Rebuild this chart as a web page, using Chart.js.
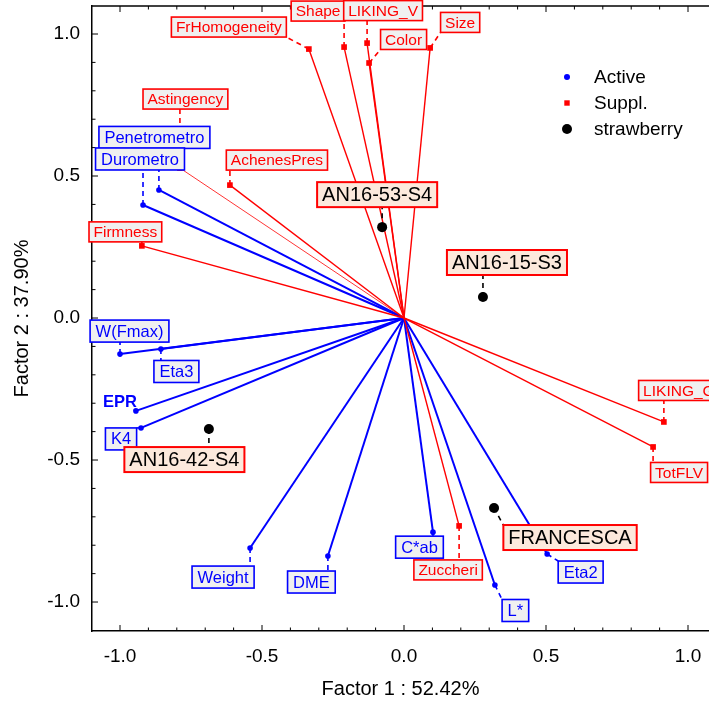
<!DOCTYPE html>
<html><head><meta charset="utf-8">
<script src="https://cdn.jsdelivr.net/npm/chart.js@4.4.1/dist/chart.umd.min.js"></script>
<style>html,body{margin:0;padding:0;background:#fff;overflow:hidden}</style>
</head><body>
<canvas id="c" width="709" height="703"></canvas>
<script>
const FONT = '"Liberation Sans", Arial, Helvetica, sans-serif';

// ---- data ----
const xTicks = [-1.0, -0.5, 0.0, 0.5, 1.0];
const yTicks = [-1.0, -0.5, 0.0, 0.5, 1.0];
const xTitle = 'Factor 1 : 52.42%';
const yTitle = 'Factor 2 : 37.90%';
const legendLabels = ['Active', 'Suppl.', 'strawberry'];

const activeNames = ['Penetrometro','Durometro','W(Fmax)','Eta3','EPR','K4','Weight','DME','C*ab','L*','Eta2'];
const activeX = [-0.863,-0.919,-1.000,-0.856,-0.944,-0.926,-0.542,-0.268,0.102,0.320,0.504];
const activeY = [0.451,0.398,-0.127,-0.109,-0.327,-0.387,-0.810,-0.838,-0.754,-0.940,-0.831];

const supplNames = ['FrHomogeneity','Shape','LIKING_V','Color','Size','Astingency','AchenesPres','Firmness','LIKING_G','TotFLV','Zuccheri'];
const supplX = [-0.335,-0.211,-0.130,-0.123,0.092,-0.789,-0.613,-0.923,0.915,0.877,0.194];
const supplY = [0.947,0.954,0.968,0.898,0.951,0.528,0.468,0.254,-0.366,-0.454,-0.732];

const strawNames = ['AN16-53-S4','AN16-15-S3','AN16-42-S4','FRANCESCA'];
const strawX = [-0.077,0.278,-0.687,0.317];
const strawY = [0.320,0.074,-0.391,-0.669];

// ---- layout / style (label offsets in px from the point) ----
const activeLabelOffset = [[-4.5,-52.5],[-3,-46],[9.5,-23],[15.5,22.5],[-16,-9],[-20,11],[-27,29],[-16.5,26],[-13.5,15],[20.5,25.5],[33.5,18]];
const activeNoBox = ['EPR'];
const supplLabelOffset = [[-80,-22],[-26,-36],[16,-32.5],[34.5,-23.5],[30,-25.5],[5.5,-69],[47,-25],[-16.5,-14],[15,-31.5],[26,25.5],[-11,44]];
const supplThin = ['Astingency'];
const strawLabelOffset = [[-5,-32.5],[24,-34.5],[-24.5,30.5],[76,29.5]];

const BLUE = '#0000ff', RED = '#ff0000';

const datasets = [];
datasets.push({
  label:'strawberry', order:1,
  data: strawX.map((x,i)=>({x:x,y:strawY[i]})),
  showLine:false, pointRadius:5, pointBackgroundColor:'#000', pointBorderColor:'#000', pointBorderWidth:0
});
supplNames.forEach((n,i)=>{
  datasets.push({
    label:n, order:2,
    data:[{x:0,y:0},{x:supplX[i],y:supplY[i]}],
    showLine:true, borderColor:RED, borderWidth: supplThin.includes(n)?0.8:1.4,
    pointRadius:[0,4], pointStyle:'rect', pointBackgroundColor:RED, pointBorderWidth:0
  });
});
activeNames.forEach((n,i)=>{
  datasets.push({
    label:n, order:3,
    data:[{x:0,y:0},{x:activeX[i],y:activeY[i]}],
    showLine:true, borderColor:BLUE, borderWidth:2,
    pointRadius:[0,2.8], pointStyle:'circle', pointBackgroundColor:BLUE, pointBorderWidth:0
  });
});

function seg(ctx,x1,y1,x2,y2){ctx.beginPath();ctx.moveTo(x1,y1);ctx.lineTo(x2,y2);ctx.stroke();}

const framePlugin = {
  id:'frame',
  afterDatasetsDraw(chart){
    const ctx = chart.ctx, a = chart.chartArea, xs = chart.scales.x, ys = chart.scales.y;
    ctx.save();
    ctx.strokeStyle='#000'; ctx.lineWidth=1.5;
    seg(ctx,a.left,a.top,a.right,a.top);
    ctx.lineWidth=1;
    for(let i=-10;i<=10;i++){
      const v=i/10, len=(i%5===0)?6:3.5;
      const px=xs.getPixelForValue(v);
      if(px<=a.right){ seg(ctx,px,a.bottom,px,a.bottom-len); seg(ctx,px,a.top,px,a.top+len); }
      const py=ys.getPixelForValue(v);
      seg(ctx,a.left,py,a.left+len,py);
    }
    ctx.restore();
  }
};

function boxFor(ctx,cx,cy,text,st){
  ctx.font = st.font;
  const w = ctx.measureText(text).width + 2*st.padX;
  return {x0:cx-w/2,y0:cy-st.h/2,w:w,h:st.h};
}

const labelPlugin = {
  id:'labels',
  afterDraw(chart){
    const ctx = chart.ctx, xs = chart.scales.x, ys = chart.scales.y;
    const items = [];
    const stA = {font:'16.5px '+FONT, padX:5.5, h:22, color:BLUE, stroke:BLUE, fill:'#f0f0f0', bw:1.6, lead:BLUE};
    const stS = {font:'15.5px '+FONT, padX:4.5, h:20, color:RED, stroke:RED, fill:'#f0f0f0', bw:1.6, lead:RED};
    const stW = {font:'20px '+FONT, padX:5, h:25, color:'#000', stroke:RED, fill:'#fce9dc', bw:2, lead:'#000'};
    supplNames.forEach((n,i)=>items.push({t:n,x:supplX[i],y:supplY[i],o:supplLabelOffset[i],st:stS,box:true}));
    activeNames.forEach((n,i)=>items.push({t:n,x:activeX[i],y:activeY[i],o:activeLabelOffset[i],st:stA,box:!activeNoBox.includes(n)}));
    strawNames.forEach((n,i)=>items.push({t:n,x:strawX[i],y:strawY[i],o:strawLabelOffset[i],st:stW,box:true}));
    ctx.save();
    items.forEach(it=>{
      if(!it.box) return;
      const px=xs.getPixelForValue(it.x), py=ys.getPixelForValue(it.y);
      const cx=px+it.o[0], cy=py+it.o[1];
      const b=boxFor(ctx,cx,cy,it.t,it.st);
      const ex=Math.min(Math.max(px,b.x0),b.x0+b.w), ey=Math.min(Math.max(py,b.y0),b.y0+b.h);
      ctx.setLineDash([5,4]); ctx.strokeStyle=it.st.lead; ctx.lineWidth=1.6;
      seg(ctx,px,py,ex,ey);
    });
    ctx.setLineDash([]);
    items.forEach(it=>{
      const px=xs.getPixelForValue(it.x), py=ys.getPixelForValue(it.y);
      const cx=px+it.o[0], cy=py+it.o[1];
      const b=boxFor(ctx,cx,cy,it.t,it.st);
      if(it.box){
        ctx.fillStyle=it.st.fill; ctx.fillRect(b.x0,b.y0,b.w,b.h);
        ctx.strokeStyle=it.st.stroke; ctx.lineWidth=it.st.bw; ctx.strokeRect(b.x0,b.y0,b.w,b.h);
        ctx.font=it.st.font;
      } else {
        ctx.font='bold '+it.st.font;
      }
      ctx.fillStyle=it.st.color; ctx.textAlign='center'; ctx.textBaseline='middle';
      ctx.fillText(it.t,cx,cy+1);
    });
    const lx=567, ly=[77,103,129];
    ctx.fillStyle=BLUE; ctx.beginPath(); ctx.arc(lx,ly[0],3,0,Math.PI*2); ctx.fill();
    ctx.fillStyle=RED; ctx.fillRect(lx-2.7,ly[1]-2.7,5.4,5.4);
    ctx.fillStyle='#000'; ctx.beginPath(); ctx.arc(lx,ly[2],5,0,Math.PI*2); ctx.fill();
    ctx.font='19px '+FONT; ctx.textAlign='left'; ctx.textBaseline='middle'; ctx.fillStyle='#000';
    legendLabels.forEach((t,i)=>ctx.fillText(t,594,ly[i]+1));
    ctx.restore();
  }
};

new Chart(document.getElementById('c'), {
  type:'scatter',
  data:{datasets:datasets},
  plugins:[framePlugin,labelPlugin],
  options:{
    responsive:false, animation:false, devicePixelRatio:1,
    layout:{autoPadding:false, padding:{top:6,right:0,left:0,bottom:0}},
    plugins:{legend:{display:false}, tooltip:{enabled:false}},
    scales:{
      x:{type:'linear', min:-1.0986, max:1.0739,
        afterBuildTicks:s=>{s.ticks=xTicks.map(v=>({value:v}));},
        afterFit:s=>{s.height=72; s.paddingLeft=0; s.paddingRight=0; s.paddingTop=0; s.paddingBottom=0;},
        grid:{display:false, drawTicks:false}, border:{display:true,color:'#000',width:1.5},
        ticks:{color:'#000',font:{family:FONT,size:19},padding:14,maxRotation:0,autoSkip:false,callback:v=>Number(v).toFixed(1)},
        title:{display:true,text:xTitle,color:'#000',font:{family:FONT,size:20},padding:{top:0,bottom:2}}
      },
      y:{type:'linear', min:-1.102, max:1.0986,
        afterBuildTicks:s=>{s.ticks=yTicks.map(v=>({value:v}));},
        afterFit:s=>{s.width=92; s.paddingLeft=0; s.paddingRight=0; s.paddingTop=0; s.paddingBottom=0;},
        grid:{display:false, drawTicks:false}, border:{display:true,color:'#000',width:1.5},
        ticks:{color:'#000',font:{family:FONT,size:19},padding:12,autoSkip:false,callback:v=>Number(v).toFixed(1)},
        title:{display:true,text:yTitle,color:'#000',font:{family:FONT,size:20},padding:{top:10,bottom:0}}
      }
    }
  }
});
</script>
</body></html>
